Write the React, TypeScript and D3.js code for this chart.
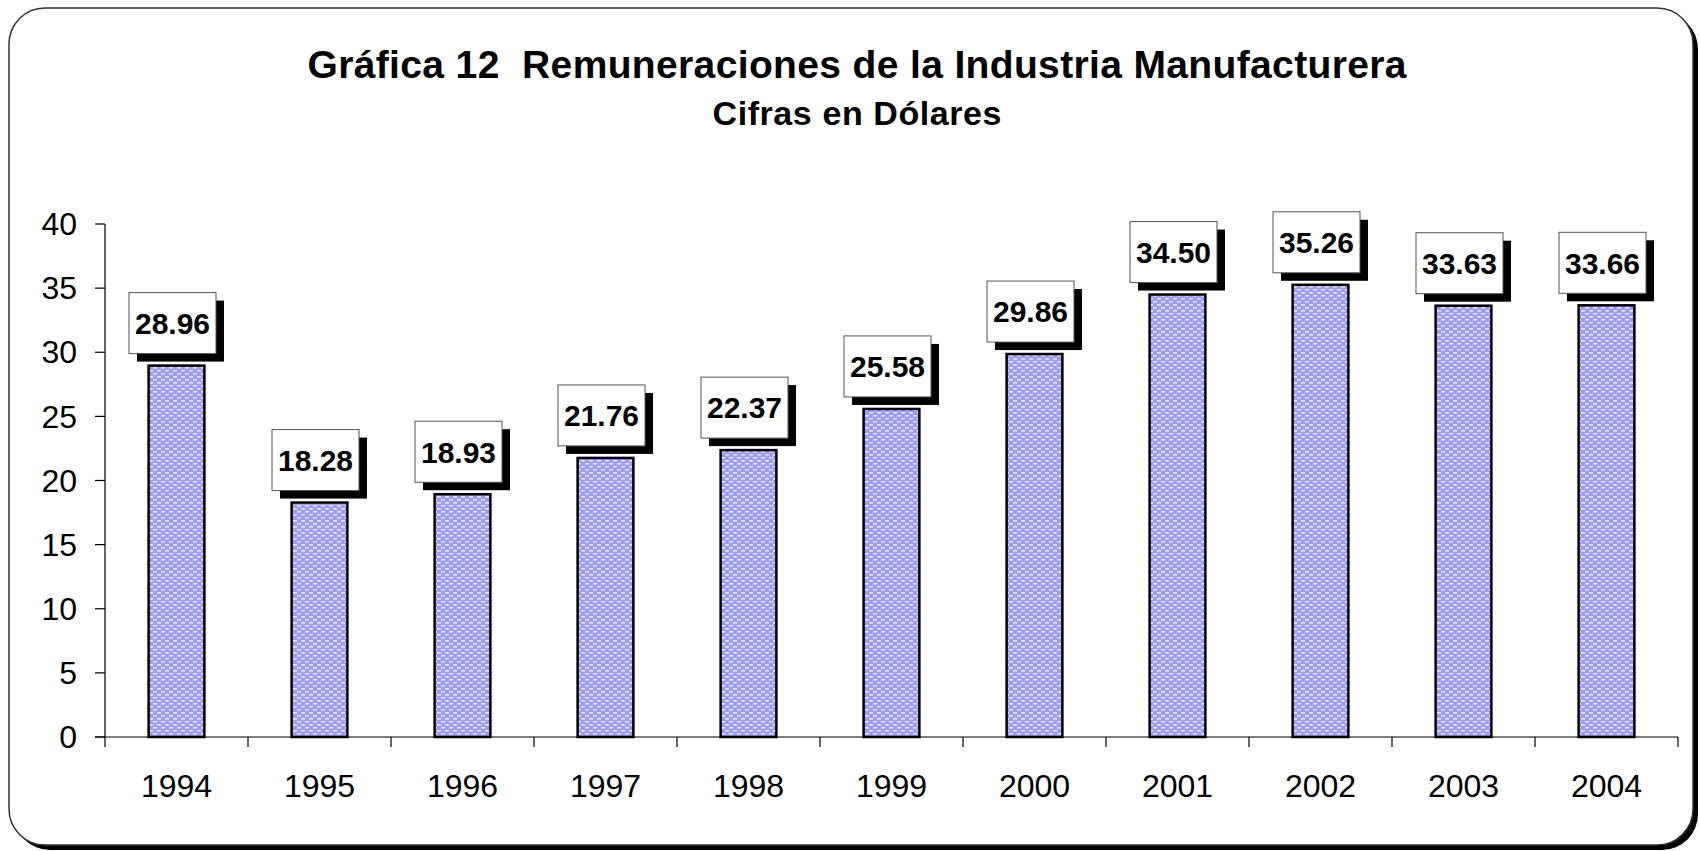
import React from "react";
import * as d3 from "d3";

// Gráfica 12 - remuneraciones (dólares)
const years = ["1994", "1995", "1996", "1997", "1998", "1999", "2000", "2001", "2002", "2003", "2004"];
const values = [28.96, 18.28, 18.93, 21.76, 22.37, 25.58, 29.86, 34.5, 35.26, 33.63, 33.66];
const yTicks = [0, 5, 10, 15, 20, 25, 30, 35, 40];

const W = 1700;
const H = 851;
const font = "'Liberation Sans', Arial, sans-serif";

export default function App() {
  const x = d3.scaleBand<string>().domain(years).range([105, 1678]).padding(0);
  const y = d3.scaleLinear().domain([0, 40]).range([737, 224]);
  const bw = x.bandwidth() * 0.39;
  const boxW = 87;
  const boxH = 61;
  const shadow = 8;

  return (
    <div style={{ position: "absolute", left: 0, top: 0 }}>
      <svg width={W} height={H} style={{ display: "block", background: "#fff" }}>
        <defs>
          <pattern id="dots" width="8" height="6" patternUnits="userSpaceOnUse">
            <rect width="8" height="6" fill="#9b9bf6" />
            <rect x="1" y="1" width="4" height="1.6" fill="#e6e6ff" />
            <rect x="5" y="4" width="4" height="1.6" fill="#e6e6ff" />
            <rect x="-3" y="4" width="4" height="1.6" fill="#e6e6ff" />
          </pattern>
        </defs>

        {/* frame with shadow */}
        <rect x={14} y={13} width={1684} height={837} rx={36} fill="#000" />
        <rect x={9} y={8} width={1684} height={837} rx={36} fill="#fff" stroke="#333" strokeWidth={1.5} />

        {/* titles */}
        <text x={857} y={78} textAnchor="middle" fontFamily={font} fontWeight="bold" fontSize={39}
          textLength={1099} lengthAdjust="spacing">
          {"Gráfica 12\u00a0 Remuneraciones de la Industria Manufacturera"}
        </text>
        <text x={857} y={125} textAnchor="middle" fontFamily={font} fontWeight="bold" fontSize={34}
          textLength={289} lengthAdjust="spacing">
          Cifras en Dólares
        </text>

        {/* y axis */}
        <line x1={105} x2={105} y1={y(40)} y2={y(0)} stroke="#000" strokeWidth={1.2} />
        {yTicks.map(t => (
          <g key={t}>
            <line x1={95} x2={105} y1={y(t)} y2={y(t)} stroke="#000" strokeWidth={1.2} />
            <text x={77} y={y(t)} dy="0.35em" textAnchor="end" fontFamily={font} fontSize={32}>{t}</text>
          </g>
        ))}

        {/* x axis */}
        <line x1={95} x2={1678} y1={y(0)} y2={y(0)} stroke="#000" strokeWidth={1.2} />
        {years.map(yr => (
          <line key={"t" + yr} x1={x(yr)!} x2={x(yr)!} y1={y(0)} y2={y(0) + 10} stroke="#000" strokeWidth={1.2} />
        ))}
        <line x1={1678} x2={1678} y1={y(0)} y2={y(0) + 10} stroke="#000" strokeWidth={1.2} />
        {years.map(yr => (
          <text key={"l" + yr} x={x(yr)! + x.bandwidth() / 2} y={797} textAnchor="middle" fontFamily={font} fontSize={32}>
            {yr}
          </text>
        ))}

        {/* bars and labels */}
        {values.map((v, i) => {
          const cx = x(years[i])! + x.bandwidth() / 2;
          const top = y(v);
          const bx = cx - (boxW + shadow) / 2;
          const by = top - 12 - boxH;
          return (
            <g key={years[i]}>
              <rect x={cx - bw / 2} y={top} width={bw} height={y(0) - top} fill="url(#dots)" stroke="#000" strokeWidth={2.5} />
              <rect x={bx + shadow} y={by + shadow} width={boxW} height={boxH} fill="#000" />
              <rect x={bx} y={by} width={boxW} height={boxH} fill="#fff" stroke="#555" strokeWidth={1} />
              <text x={bx + boxW / 2} y={by + boxH / 2} dy="0.36em" textAnchor="middle" fontFamily={font}
                fontWeight="bold" fontSize={30}>
                {v.toFixed(2)}
              </text>
            </g>
          );
        })}
      </svg>
    </div>
  );
}
